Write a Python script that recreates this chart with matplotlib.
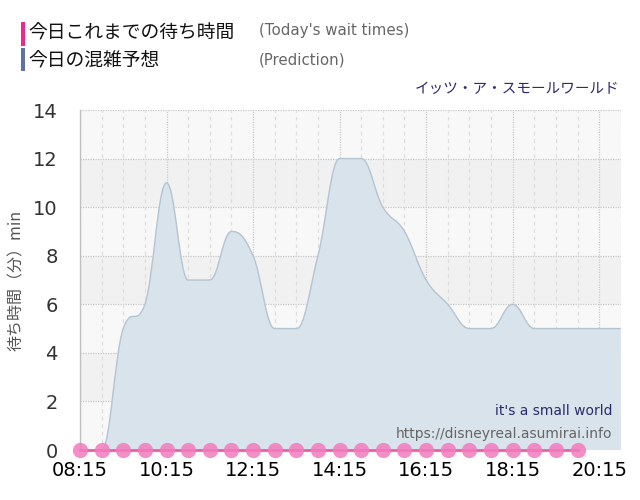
import matplotlib
matplotlib.use("Agg")
import matplotlib.pyplot as plt
from matplotlib.path import Path
from matplotlib.patches import PathPatch, Rectangle

# hours as decimal (08:15 -> 8.25), prediction every 30 min
pred_times = [8.25 + 0.5 * i for i in range(26)]
pred_values = [0, 0, 5, 6, 11, 7, 7, 9, 8, 5, 5, 8, 12, 12, 10, 9, 7, 6, 5, 5, 6, 5, 5, 5, 5, 5]

# today's actual wait times (08:15 - 19:45)
wait_times = [8.25 + 0.5 * i for i in range(24)]
wait_values = [0] * 24

x_ticks = [8.25, 10.25, 12.25, 14.25, 16.25, 18.25, 20.25]
x_labels = ["08:15", "10:15", "12:15", "14:15", "16:15", "18:15", "20:15"]
y_ticks = [0, 2, 4, 6, 8, 10, 12, 14]

JP = ["Noto Sans CJK JP", "DejaVu Sans"]


def spline_path(xs, ys, smoothing=1.5):
    # highcharts-like spline control points
    denom = smoothing + 1
    n = len(xs)
    left = [None] * n
    right = [None] * n
    for i in range(1, n - 1):
        lx, ly = xs[i - 1], ys[i - 1]
        px, py = xs[i], ys[i]
        nx, ny = xs[i + 1], ys[i + 1]
        lcx = (smoothing * px + lx) / denom
        lcy = (smoothing * py + ly) / denom
        rcx = (smoothing * px + nx) / denom
        rcy = (smoothing * py + ny) / denom
        corr = ((rcy - lcy) * (rcx - px)) / (rcx - lcx) + py - rcy
        lcy += corr
        rcy += corr
        if lcy > max(ly, py):
            lcy = max(ly, py)
            rcy = 2 * py - lcy
        elif lcy < min(ly, py):
            lcy = min(ly, py)
            rcy = 2 * py - lcy
        if rcy > max(py, ny):
            rcy = max(py, ny)
            lcy = 2 * py - rcy
        elif rcy < min(py, ny):
            rcy = min(py, ny)
            lcy = 2 * py - rcy
        left[i] = (lcx, lcy)
        right[i] = (rcx, rcy)
    verts = [(xs[0], ys[0])]
    codes = [Path.MOVETO]
    for i in range(1, n):
        c1 = right[i - 1] or (xs[i - 1], ys[i - 1])
        c2 = left[i] or (xs[i], ys[i])
        verts += [c1, c2, (xs[i], ys[i])]
        codes += [Path.CURVE4] * 3
    return verts, codes


fig = plt.figure(figsize=(6.4, 5.0), dpi=100)
ax = fig.add_axes([0.125, 0.1, 0.845, 0.68])

ax.set_xlim(8.25, 20.75)
ax.set_ylim(0, 14)

# alternating bands
for i, y0 in enumerate(range(0, 14, 2)):
    ax.axhspan(y0, y0 + 2, color="#f8f8f8" if i % 2 == 0 else "#f1f1f1", zorder=0, lw=0)

# grid lines
for y in y_ticks:
    ax.axhline(y, color="#c8c8c8", lw=0.9, ls=(0, (1, 1)), zorder=1)
t = 8.25
while t < 20.8:
    if abs((t - 8.25) % 2) < 1e-6:
        ax.axvline(t, color="#cccccc", lw=0.9, ls=(0, (1, 1)), zorder=1)
    else:
        ax.axvline(t, color="#dddddd", lw=0.9, ls=(0, (3, 3)), zorder=1)
    t += 0.5

# prediction area
verts, codes = spline_path(pred_times, pred_values)
fill_verts = verts + [(pred_times[-1], 0), (pred_times[0], 0), (pred_times[0], 0)]
fill_codes = codes + [Path.LINETO, Path.LINETO, Path.CLOSEPOLY]
ax.add_patch(PathPatch(Path(fill_verts, fill_codes), facecolor="#d9e3eb", edgecolor="none", zorder=2))
ax.add_patch(PathPatch(Path(verts, codes), facecolor="none", edgecolor="#b4c4d0", lw=1.0, zorder=3))

# today's wait times
ax.plot(wait_times, wait_values, color="#ec5fa6", lw=2, zorder=4, clip_on=False)
ax.plot(wait_times, wait_values, "o", color="#f27cbe", alpha=0.85, ms=11, mec="none",
        zorder=5, clip_on=False)

for s in ["top", "right", "bottom"]:
    ax.spines[s].set_visible(False)
ax.spines["left"].set_color("#c0c0c0")
ax.spines["left"].set_linewidth(1)

ax.set_xticks(x_ticks)
ax.set_xticklabels(x_labels)
ax.set_yticks(y_ticks)
ax.tick_params(axis="x", length=0, pad=8, labelsize=14, labelcolor="#000000")
ax.tick_params(axis="y", length=0, pad=16, labelsize=14, labelcolor="#333333")

ax.set_ylabel("待ち時間（分）min", family=JP, fontsize=11.5, color="#555555", labelpad=6)

ax.text(0.985, 0.115, "it's a small world", transform=ax.transAxes, ha="right", va="center",
        fontsize=10, color="#2b2b6b", zorder=6)
ax.text(0.985, 0.047, "https://disneyreal.asumirai.info", transform=ax.transAxes, ha="right",
        va="center", fontsize=10, color="#666666", zorder=6)

# header legend
fig.add_artist(Rectangle((21 / 640, 1 - 46 / 500), 4 / 640, 24 / 500, transform=fig.transFigure,
                         color="#f0288c", lw=0))
fig.add_artist(Rectangle((21 / 640, 1 - 71 / 500), 4 / 640, 23 / 500, transform=fig.transFigure,
                         color="#5f72a0", lw=0))
fig.text(28 / 640, 1 - 33 / 500, "今日これまでの待ち時間", family=JP, fontsize=13.5,
         color="#111111", va="center")
fig.text(28 / 640, 1 - 61 / 500, "今日の混雑予想", family=JP, fontsize=13.5,
         color="#111111", va="center")
fig.text(259 / 640, 1 - 31 / 500, "(Today's wait times)", fontsize=10.8, color="#666666", va="center")
fig.text(259 / 640, 1 - 60 / 500, "(Prediction)", fontsize=10.8, color="#666666", va="center")
fig.text(620 / 640, 1 - 89 / 500, "イッツ・ア・スモールワールド", family=JP, fontsize=10.5,
         color="#2b2b6b", va="center", ha="right")

fig.savefig("out.png", dpi=100)
